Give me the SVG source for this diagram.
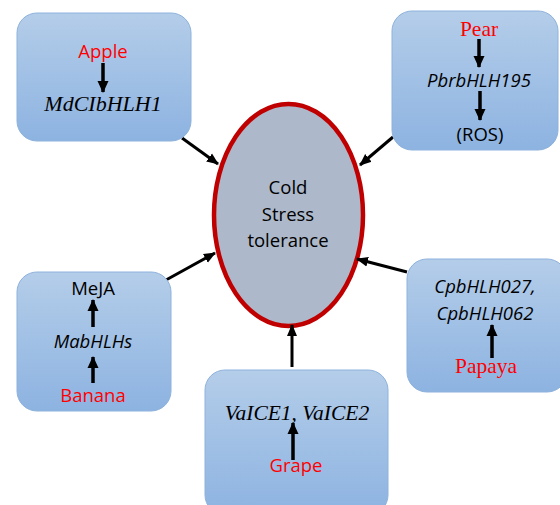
<svg xmlns="http://www.w3.org/2000/svg" width="560" height="505" viewBox="0 0 560 505">
<defs>
<linearGradient id="g" x1="0" y1="0" x2="0" y2="1">
<stop offset="0" stop-color="#b4cde9"/>
<stop offset="1" stop-color="#8db3e1"/>
</linearGradient>
<marker id="ah" markerUnits="userSpaceOnUse" markerWidth="12" markerHeight="12" viewBox="0 0 12 12" refX="11" refY="6" orient="auto">
<path d="M0,1 L12,6 L0,11 Z" fill="#000"/>
</marker>
<marker id="ai" markerUnits="userSpaceOnUse" markerWidth="12" markerHeight="12" viewBox="0 0 12 12" refX="11" refY="6" orient="auto">
<path d="M0,0.5 L12,6 L0,11.5 Z" fill="#000"/>
</marker>
<style>
.box{fill:url(#g);stroke:#8eb2dc;stroke-width:1}
.sans{font-family:"Open Sans","Liberation Sans",sans-serif;font-size:18.5px;fill:#000;text-anchor:middle}
.serif{font-family:"Liberation Serif","Times New Roman",serif;font-size:21.5px;fill:#000;text-anchor:middle}
.it{font-style:italic}
.red{fill:#ff0000}
.conn{stroke:#000;stroke-width:3;fill:none;marker-end:url(#ah)}
.inner{stroke:#000;stroke-width:3.5;fill:none;marker-end:url(#ai)}
</style>
</defs>
<g id="center">
<ellipse cx="288.5" cy="215" rx="74.5" ry="111" fill="#adb9ca" stroke="#c00000" stroke-width="4.5"/>
<text class="sans" x="288" y="194">Cold</text>
<text class="sans" x="288" y="221">Stress</text>
<text class="sans" x="288" y="247">tolerance</text>
</g>
<g id="connectors">
<line class="conn" x1="182" y1="138" x2="218" y2="164"/>
<line class="conn" x1="393" y1="137" x2="360" y2="165"/>
<line class="conn" x1="166" y1="280" x2="215" y2="253"/>
<line class="conn" x1="292" y1="367" x2="292" y2="325"/>
<line class="conn" x1="407" y1="272" x2="357" y2="259"/>
</g>
<g id="apple">
<rect class="box" x="17" y="13" width="174" height="128" rx="20"/>
<text class="sans red" x="103" y="58">Apple</text>
<line class="inner" x1="103" y1="63" x2="103" y2="92"/>
<text class="serif it" x="103" y="111" style="font-size:22px">MdCIbHLH1</text>
</g>
<g id="pear">
<rect class="box" x="392" y="11" width="166" height="139" rx="20"/>
<text class="serif red" x="479" y="36">Pear</text>
<line class="inner" x1="479" y1="39" x2="479" y2="67"/>
<text class="sans it" x="479" y="87">PbrbHLH195</text>
<line class="inner" x1="480" y1="91" x2="480" y2="120"/>
<text class="sans" x="480" y="141">(ROS)</text>
</g>
<g id="banana">
<rect class="box" x="17" y="272" width="154" height="139" rx="20"/>
<text class="sans" x="93" y="295">MeJA</text>
<line class="inner" x1="93" y1="327" x2="93" y2="300"/>
<text class="sans it" x="93" y="348">MabHLHs</text>
<line class="inner" x1="93" y1="383" x2="93" y2="357"/>
<text class="sans red" x="93" y="402">Banana</text>
</g>
<g id="grape">
<rect class="box" x="205" y="370" width="183" height="145" rx="20"/>
<text class="serif it" x="297" y="420">VaICE1, VaICE2</text>
<line class="inner" x1="293" y1="460" x2="293" y2="423"/>
<text class="sans red" x="296" y="472">Grape</text>
</g>
<g id="papaya">
<rect class="box" x="407" y="259" width="160" height="133" rx="20"/>
<text class="sans it" x="485" y="293">CpbHLH027,</text>
<text class="sans it" x="485" y="320">CpbHLH062</text>
<line class="inner" x1="492" y1="358" x2="492" y2="325"/>
<text class="serif red" x="486" y="373">Papaya</text>
</g>
</svg>
